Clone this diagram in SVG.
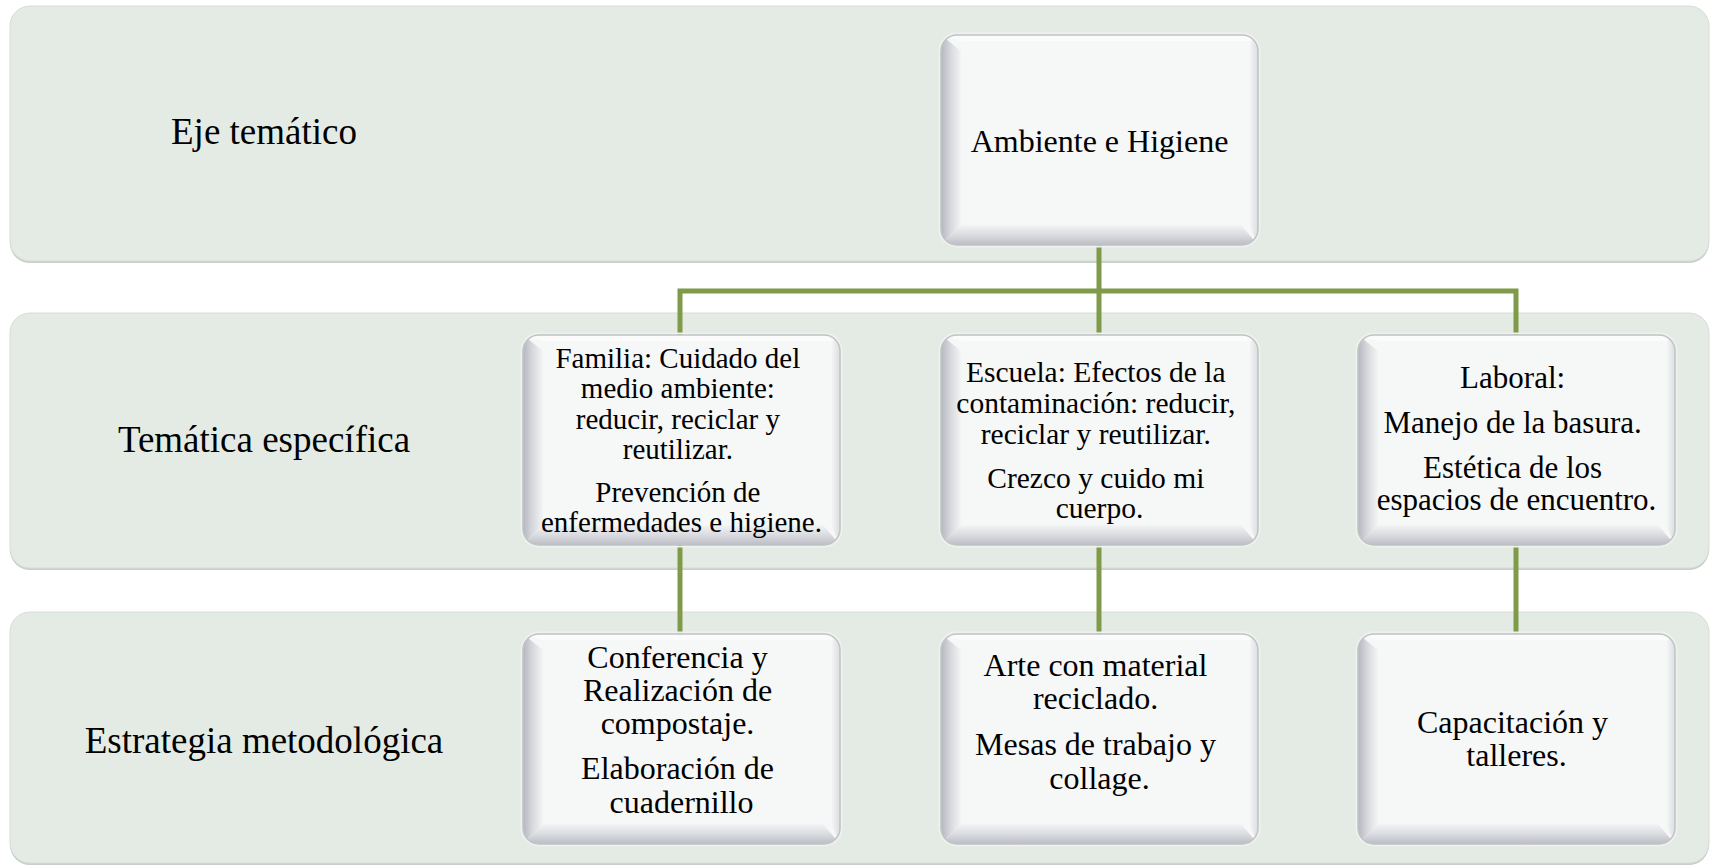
<svg xmlns="http://www.w3.org/2000/svg" xmlns:xlink="http://www.w3.org/1999/xlink" width="1718" height="865" viewBox="0 0 1718 865">
  <style>
    .band { fill: #e4ebe5; stroke: #d6ddd7; stroke-width: 1; }
    .band-shadow { fill: #c9cfca; }
    .label { font-family: "Liberation Serif", "Times New Roman", serif; font-size: 37px; fill: #000; text-anchor: middle; }
    .txt { font-family: "Liberation Serif", "Times New Roman", serif; fill: #000; text-anchor: middle; }
    .link { fill: none; stroke: #7f9a48; stroke-width: 5; stroke-linejoin: miter; }
  </style>
  <defs>
    <clipPath id="nodeClip">
      <rect width="317" height="210" rx="16"/>
    </clipPath>
    <linearGradient id="leftFace" x1="0" y1="0" x2="1" y2="0">
      <stop offset="0" stop-color="#b5b7c0"/>
      <stop offset="0.45" stop-color="#d6d7dc"/>
      <stop offset="1" stop-color="#f3f4f4"/>
    </linearGradient>
    <linearGradient id="bottomFace" x1="0" y1="0" x2="0" y2="1">
      <stop offset="0" stop-color="#f3f4f4"/>
      <stop offset="0.55" stop-color="#d8d9de"/>
      <stop offset="1" stop-color="#bbbdc5"/>
    </linearGradient>
    <linearGradient id="rightFace" x1="0" y1="0" x2="1" y2="0">
      <stop offset="0" stop-color="#f3f4f4"/>
      <stop offset="1" stop-color="#dcdde1"/>
    </linearGradient>
    <!-- bevelled rounded box used for every node -->
    <g id="box">
      <rect x="-1.5" y="-1.5" width="320" height="213" rx="17.5" fill="none" stroke="#eef1ef" stroke-width="2"/>
      <rect width="317" height="210" rx="16" fill="#f6f7f7"/>
      <g clip-path="url(#nodeClip)">
        <polygon points="0,0 317,0 309,6 20,6" fill="#fbfbfb"/>
        <polygon points="0,0 20,16 20,190 0,210" fill="url(#leftFace)"/>
        <polygon points="0,210 20,190 300,190 317,210" fill="url(#bottomFace)"/>
        <polygon points="317,0 309,7 309,192 317,210" fill="url(#rightFace)"/>
      </g>
      <rect width="317" height="210" rx="16" fill="none" stroke="#c0c4c3" stroke-width="1.5"/>
    </g>
  </defs>

  <rect width="1718" height="865" fill="#ffffff"/>

  <!-- horizontal bands -->
  <g id="band-eje">
    <rect class="band-shadow" x="10" y="8" width="1699" height="255" rx="20"/>
    <rect class="band" x="10" y="6" width="1699" height="255" rx="20"/>
    <text class="label" x="264" y="144">Eje temático</text>
  </g>
  <g id="band-tematica">
    <rect class="band-shadow" x="10" y="315" width="1699" height="255" rx="20"/>
    <rect class="band" x="10" y="313" width="1699" height="255" rx="20"/>
    <text class="label" x="264" y="452">Temática específica</text>
  </g>
  <g id="band-estrategia">
    <rect class="band-shadow" x="10" y="614" width="1699" height="251" rx="20"/>
    <rect class="band" x="10" y="612" width="1699" height="251" rx="20"/>
    <text class="label" x="264" y="753">Estrategia metodológica</text>
  </g>

  <!-- connectors -->
  <g id="connectors">
    <path class="link" d="M1099,245 V291"/>
    <path class="link" d="M680,335 V291 H1516 V335"/>
    <path class="link" d="M1099,291 V335"/>
    <path class="link" d="M680,545 V634"/>
    <path class="link" d="M1099,545 V634"/>
    <path class="link" d="M1516,545 V634"/>
  </g>

  <!-- nodes -->
  <g id="node-ambiente">
    <use xlink:href="#box" x="941" y="35"/>
    <text class="txt" font-size="32" x="1099.5" y="152">Ambiente e Higiene</text>
  </g>

  <g id="node-familia">
    <use xlink:href="#box" x="523" y="335"/>
    <text class="txt" font-size="29" x="681.5">
      <tspan x="681.5" y="368">Familia: Cuidado del</tspan>
      <tspan x="681.5" y="398">medio ambiente:</tspan>
      <tspan x="681.5" y="428.5">reducir, reciclar y</tspan>
      <tspan x="681.5" y="458.5">reutilizar.</tspan>
      <tspan x="681.5" y="502">Prevención de</tspan>
      <tspan x="681.5" y="532">enfermedades e higiene.</tspan>
    </text>
  </g>

  <g id="node-escuela">
    <use xlink:href="#box" x="941" y="335"/>
    <text class="txt" font-size="29.5" x="1099.5">
      <tspan x="1099.5" y="382">Escuela: Efectos de la</tspan>
      <tspan x="1099.5" y="413">contaminación: reducir,</tspan>
      <tspan x="1099.5" y="444">reciclar y reutilizar.</tspan>
      <tspan x="1099.5" y="487.5">Crezco y cuido mi</tspan>
      <tspan x="1099.5" y="517.5">cuerpo.</tspan>
    </text>
  </g>

  <g id="node-laboral">
    <use xlink:href="#box" x="1358" y="335"/>
    <text class="txt" font-size="31" x="1516.5">
      <tspan x="1516.5" y="388">Laboral:</tspan>
      <tspan x="1516.5" y="433">Manejo de la basura.</tspan>
      <tspan x="1516.5" y="478">Estética de los</tspan>
      <tspan x="1516.5" y="510">espacios de encuentro.</tspan>
    </text>
  </g>

  <g id="node-conferencia">
    <use xlink:href="#box" x="523" y="634"/>
    <text class="txt" font-size="32" x="681.5">
      <tspan x="681.5" y="668">Conferencia y</tspan>
      <tspan x="681.5" y="701">Realización de</tspan>
      <tspan x="681.5" y="734">compostaje.</tspan>
      <tspan x="681.5" y="779">Elaboración de</tspan>
      <tspan x="681.5" y="812.5">cuadernillo</tspan>
    </text>
  </g>

  <g id="node-arte">
    <use xlink:href="#box" x="941" y="634"/>
    <text class="txt" font-size="32" x="1099.5">
      <tspan x="1099.5" y="675.5">Arte con material</tspan>
      <tspan x="1099.5" y="709">reciclado.</tspan>
      <tspan x="1099.5" y="755">Mesas de trabajo y</tspan>
      <tspan x="1099.5" y="788.5">collage.</tspan>
    </text>
  </g>

  <g id="node-capacitacion">
    <use xlink:href="#box" x="1358" y="634"/>
    <text class="txt" font-size="32" x="1516.5">
      <tspan x="1516.5" y="733">Capacitación y</tspan>
      <tspan x="1516.5" y="766">talleres.</tspan>
    </text>
  </g>
</svg>
